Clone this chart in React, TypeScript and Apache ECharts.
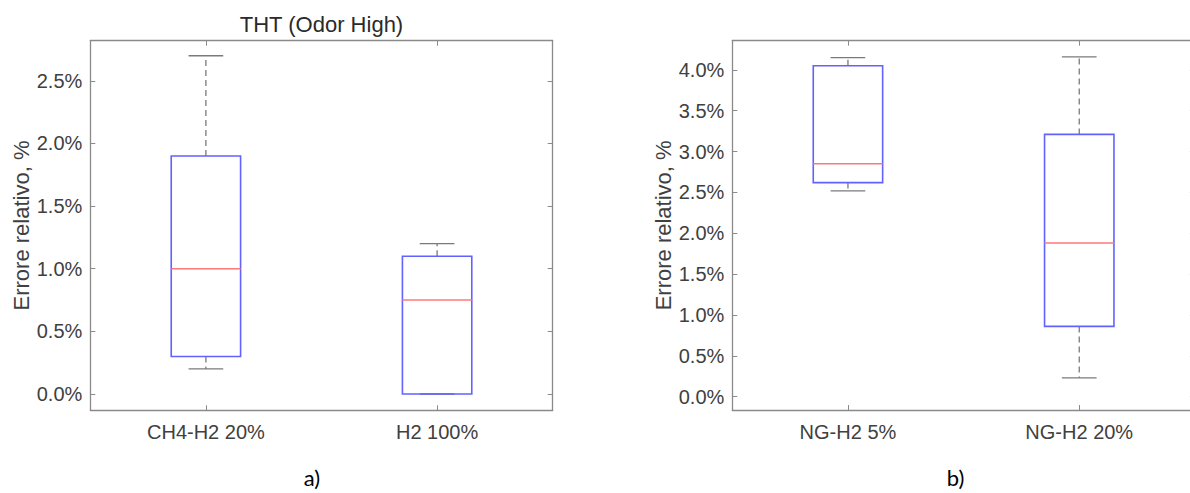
import React, { useEffect, useRef } from "react";
import * as echarts from "echarts";

// ---------- data ----------
const leftCategories = ["CH4-H2 20%", "H2 100%"];
const leftWhiskerLow = [0.2, 0.0];
const leftQ1 = [0.3, 0.0];
const leftMedian = [1.0, 0.75];
const leftQ3 = [1.9, 1.1];
const leftWhiskerHigh = [2.7, 1.2];
const leftTicks = [0, 0.5, 1, 1.5, 2, 2.5];

const rightCategories = ["NG-H2 5%", "NG-H2 20%"];
const rightWhiskerLow = [2.52, 0.23];
const rightQ1 = [2.62, 0.86];
const rightMedian = [2.85, 1.88];
const rightQ3 = [4.05, 3.21];
const rightWhiskerHigh = [4.15, 4.16];
const rightTicks = [0, 0.5, 1, 1.5, 2, 2.5, 3, 3.5, 4];

const titleText = "THT (Odor High)";
const yAxisTitle = "Errore relativo, %";
const panelLabels = ["a)", "b)"];

// ---------- style ----------
const FONT = '"Liberation Sans", Arial, Helvetica, sans-serif';
const AXIS_COLOR = "#8a8a8a";
const LABEL_COLOR = "#404040";
const BOX_COLOR = "#6262ff";
const MEDIAN_COLOR = "#ff7878";
const WHISKER_COLOR = "#7a7a7a";
const BOX_FRAC = 0.3;

const leftGrid = { left: 90.3, top: 40.7, width: 462.4, height: 369.6 };
const rightGrid = { left: 732.3, top: 40.7, width: 462.6, height: 369.3 };

function buildRows(lo: number[], q1: number[], med: number[], q3: number[], hi: number[]) {
  return lo.map((_, i) => [i, lo[i], q1[i], med[i], q3[i], hi[i]]);
}

function renderBox(params: any, api: any) {
  const idx = api.value(0);
  const lo = api.value(1);
  const q1 = api.value(2);
  const med = api.value(3);
  const q3 = api.value(4);
  const hi = api.value(5);
  const band = api.size([1, 0])[0];
  const bw = band * BOX_FRAC;
  const cw = bw / 2;
  const pLo = api.coord([idx, lo]);
  const pQ1 = api.coord([idx, q1]);
  const pMed = api.coord([idx, med]);
  const pQ3 = api.coord([idx, q3]);
  const pHi = api.coord([idx, hi]);
  const x = pMed[0];
  const whiskerStyle = { stroke: WHISKER_COLOR, lineWidth: 1.3, lineDash: [6, 4] };
  const capStyle = { stroke: WHISKER_COLOR, lineWidth: 1.3 };
  return {
    type: "group",
    children: [
      { type: "line", shape: { x1: x, y1: pQ3[1], x2: x, y2: pHi[1] }, style: whiskerStyle, silent: true },
      { type: "line", shape: { x1: x, y1: pQ1[1], x2: x, y2: pLo[1] }, style: whiskerStyle, silent: true },
      { type: "line", shape: { x1: x - cw / 2, y1: pHi[1], x2: x + cw / 2, y2: pHi[1] }, style: capStyle, silent: true },
      { type: "line", shape: { x1: x - cw / 2, y1: pLo[1], x2: x + cw / 2, y2: pLo[1] }, style: capStyle, silent: true },
      {
        type: "rect",
        shape: { x: x - bw / 2, y: pQ3[1], width: bw, height: pQ1[1] - pQ3[1] },
        style: { fill: "none", stroke: BOX_COLOR, lineWidth: 1.6 },
        silent: true,
      },
      {
        type: "line",
        shape: { x1: x - bw / 2, y1: pMed[1], x2: x + bw / 2, y2: pMed[1] },
        style: { stroke: MEDIAN_COLOR, lineWidth: 1.5 },
        silent: true,
      },
    ],
  };
}

function xAxes(gridIndex: number, cats: string[]) {
  const common = {
    gridIndex,
    type: "category",
    data: cats,
    boundaryGap: true,
    splitLine: { show: false },
    axisLine: { show: true, onZero: false, lineStyle: { color: AXIS_COLOR, width: 1.3 } },
    axisTick: { show: true, inside: true, length: 5, alignWithLabel: true, lineStyle: { color: AXIS_COLOR, width: 1 } },
  };
  return [
    {
      ...common,
      position: "bottom",
      axisLabel: { show: true, margin: 12, color: LABEL_COLOR, fontSize: 20, fontFamily: FONT },
    },
    { ...common, position: "top", axisLabel: { show: false } },
  ];
}

function yAxes(gridIndex: number, min: number, max: number, ticks: number[]) {
  const common = {
    gridIndex,
    type: "value",
    min,
    max,
    splitLine: { show: false },
    axisLine: { show: true, onZero: false, lineStyle: { color: AXIS_COLOR, width: 1.3 } },
    axisTick: { show: true, inside: true, length: 5, customValues: ticks, lineStyle: { color: AXIS_COLOR, width: 1 } },
  };
  return [
    {
      ...common,
      position: "left",
      name: yAxisTitle,
      nameLocation: "middle",
      nameGap: 58,
      nameTextStyle: { color: LABEL_COLOR, fontSize: 22, fontFamily: FONT },
      axisLabel: {
        show: true,
        margin: 8,
        color: LABEL_COLOR,
        fontSize: 20,
        fontFamily: FONT,
        customValues: ticks,
        formatter: (v: number) => v.toFixed(1) + "%",
      },
    },
    { ...common, position: "right", axisLabel: { show: false } },
  ];
}

export default function App() {
  const ref = useRef<HTMLDivElement>(null);
  useEffect(() => {
    if (!ref.current) return;
    const chart = echarts.init(ref.current, null, { renderer: "svg" });
    const option: any = {
      animation: false,
      backgroundColor: "#ffffff",
      grid: [
        { ...leftGrid, containLabel: false },
        { ...rightGrid, containLabel: false },
      ],
      xAxis: [...xAxes(0, leftCategories), ...xAxes(1, rightCategories)],
      yAxis: [...yAxes(0, -0.13, 2.82, leftTicks), ...yAxes(1, -0.163, 4.357, rightTicks)],
      series: [
        {
          type: "custom",
          xAxisIndex: 0,
          yAxisIndex: 0,
          renderItem: renderBox,
          encode: { x: 0, y: [1, 2, 3, 4, 5] },
          data: buildRows(leftWhiskerLow, leftQ1, leftMedian, leftQ3, leftWhiskerHigh),
          silent: true,
        },
        {
          type: "custom",
          xAxisIndex: 2,
          yAxisIndex: 2,
          renderItem: renderBox,
          encode: { x: 0, y: [1, 2, 3, 4, 5] },
          data: buildRows(rightWhiskerLow, rightQ1, rightMedian, rightQ3, rightWhiskerHigh),
          silent: true,
        },
      ],
      graphic: [
        {
          type: "text",
          x: leftGrid.left + leftGrid.width / 2,
          y: 24.5,
          style: {
            text: titleText,
            fill: "#2a2a2a",
            font: '22px "Liberation Sans", Arial, sans-serif',
            textAlign: "center",
            textVerticalAlign: "middle",
            align: "center",
            verticalAlign: "middle",
          },
        },
        {
          type: "text",
          x: 312,
          y: 477,
          style: {
            text: panelLabels[0],
            fill: "#000000",
            font: '22px Lato, "Open Sans", sans-serif',
            textAlign: "center",
            textVerticalAlign: "middle",
            align: "center",
            verticalAlign: "middle",
          },
        },
        {
          type: "text",
          x: 955.5,
          y: 477,
          style: {
            text: panelLabels[1],
            fill: "#000000",
            font: '22px Lato, "Open Sans", sans-serif',
            textAlign: "center",
            textVerticalAlign: "middle",
            align: "center",
            verticalAlign: "middle",
          },
        },
      ],
    };
    chart.setOption(option);
    return () => chart.dispose();
  }, []);
  return (
    <div
      style={{
        position: "fixed",
        left: 0,
        top: 0,
        width: 1190,
        height: 493,
        overflow: "hidden",
        background: "#fff",
      }}
    >
      <div ref={ref} style={{ width: 1210, height: 493 }} />
    </div>
  );
}
